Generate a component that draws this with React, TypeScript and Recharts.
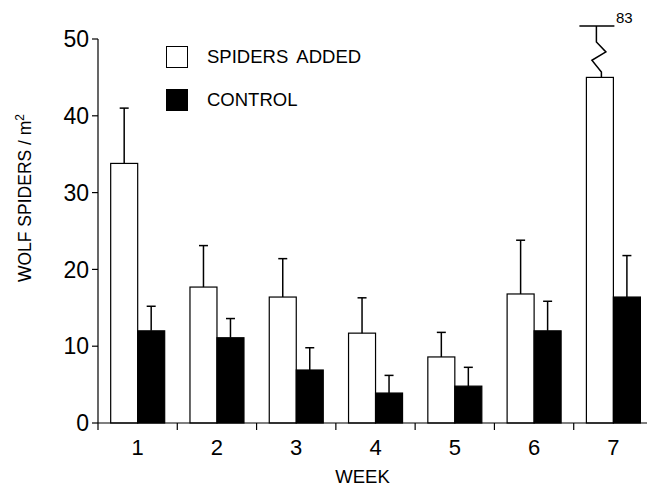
import React from 'react';
import { BarChart, Bar, XAxis, YAxis, Legend } from 'recharts';

const weeks = ['1', '2', '3', '4', '5', '6', '7'];
const spidersAdded = [33.8, 17.7, 16.4, 11.7, 8.6, 16.8, 45.0];
const spidersAddedUpper = [41.0, 23.1, 21.4, 16.3, 11.8, 23.8, 83];
const control = [12.0, 11.1, 6.9, 3.9, 4.8, 12.0, 16.4];
const controlUpper = [15.2, 13.6, 9.8, 6.2, 7.25, 15.85, 21.8];
const yTicks = [0, 10, 20, 30, 40, 50];
const legendOrder = ['SPIDERS ADDED', 'CONTROL'];
const Y_MAX = 50;
const BREAK_DRAW_AT = 51.7;

const data = weeks.map((w, i) => ({
  week: w,
  added: spidersAdded[i],
  addedUpper: spidersAddedUpper[i],
  control: control[i],
  controlUpper: controlUpper[i],
}));

const FONT = '"Liberation Sans", Arial, Helvetica, sans-serif';

const makeShape = (valueKey: string, upperKey: string, fill: string) => (props: any) => {
  const { x, y, width, height, payload } = props;
  const v = payload[valueKey];
  const upper = payload[upperKey];
  const base = y + height;
  const ppu = v > 0 ? height / v : 0;
  const cx = x + width / 2;
  const els: any[] = [];
  els.push(
    <rect key="r" x={x} y={y} width={width} height={height} fill={fill} stroke="#000" strokeWidth={1.2} />
  );
  if (upper <= Y_MAX) {
    const ey = base - upper * ppu;
    els.push(<line key="l" x1={cx} x2={cx} y1={y} y2={ey} stroke="#000" strokeWidth={1.5} />);
    els.push(<line key="c" x1={cx - 4.5} x2={cx + 4.5} y1={ey} y2={ey} stroke="#000" strokeWidth={1.5} />);
  } else {
    const capY = base - BREAK_DRAW_AT * ppu;
    const pts = [
      [cx - 3.5, capY],
      [cx - 3.5, capY + 16],
      [cx + 6, capY + 26],
      [cx - 8, capY + 34.3],
      [cx + 1.5, capY + 46],
      [cx + 1.5, y],
    ];
    els.push(
      <polyline key="z" points={pts.map((p) => p.join(',')).join(' ')} fill="none" stroke="#000" strokeWidth={1.5} />
    );
    els.push(<line key="c" x1={cx - 20.5} x2={cx + 14.5} y1={capY} y2={capY} stroke="#000" strokeWidth={1.5} />);
    els.push(
      <text key="t" x={cx + 16} y={capY - 3} fontSize={15} fill="#000" fontFamily={FONT}>
        {upper}
      </text>
    );
  }
  return <g>{els}</g>;
};

const XTick = (props: any) => {
  const { x, y, payload } = props;
  const off = payload && payload.offset ? payload.offset : 39.6;
  const axisY = y - 16.5;
  return (
    <g>
      <line x1={x - off} x2={x - off} y1={axisY} y2={axisY + 7} stroke="#000" strokeWidth={1.2} />
      <text x={x} y={y} dy="0.71em" textAnchor="middle" fontSize={22} fill="#000" fontFamily={FONT}>
        {payload.value}
      </text>
    </g>
  );
};

const renderLegend = (props: any) => {
  const payload = [...(props.payload || [])].sort(
    (a: any, b: any) => legendOrder.indexOf(a.value) - legendOrder.indexOf(b.value)
  );
  return (
    <div style={{ fontFamily: FONT, fontSize: 18.5, color: '#000' }}>
      {payload.map((entry: any, i: number) => {
        const fill = (entry.payload && entry.payload.fill) || entry.color;
        return (
          <div
            key={i}
            style={{ display: 'flex', alignItems: 'center', height: 22, marginBottom: i === 0 ? 20.6 : 0 }}
          >
            <span
              style={{
                display: 'inline-block',
                width: 22,
                height: 22,
                boxSizing: 'border-box',
                border: '1.2px solid #000',
                background: fill,
              }}
            />
            <span style={{ marginLeft: 19, wordSpacing: 4, whiteSpace: 'nowrap' }}>{entry.value}</span>
          </div>
        );
      })}
    </div>
  );
};

const YLabel = () => (
  <text transform="translate(31, 198) rotate(-90)" textAnchor="middle" fontSize={17.5} fill="#000" fontFamily={FONT}>
    WOLF SPIDERS / m
    <tspan dy={-7} fontSize={12}>
      2
    </tspan>
  </text>
);

const XLabel = () => (
  <text x={362.5} y={483} textAnchor="middle" fontSize={18.5} fill="#000" fontFamily={FONT}>
    WEEK
  </text>
);

export default function App() {
  return (
    <div
      style={{
        position: 'fixed',
        left: 0,
        top: 0,
        width: 647,
        height: 487,
        overflow: 'hidden',
        background: '#fff',
        fontFamily: FONT,
      }}
    >
      <BarChart
        width={660}
        height={487}
        data={data}
        margin={{ top: 39, right: 7, bottom: 4, left: 0 }}
        barCategoryGap="16%"
        barGap={0}
      >
        <XAxis
          dataKey="week"
          height={60}
          tickLine={false}
          tickSize={7}
          tickMargin={9.5}
          axisLine={{ stroke: '#000', strokeWidth: 1.2 }}
          tick={<XTick />}
          interval={0}
          label={<XLabel />}
        />
        <YAxis
          width={98}
          domain={[0, Y_MAX]}
          ticks={yTicks}
          interval={0}
          tickSize={6}
          tickMargin={3}
          axisLine={{ stroke: '#000', strokeWidth: 1.2 }}
          tickLine={{ stroke: '#000', strokeWidth: 1.2 }}
          tick={{ fontSize: 23, fill: '#000', fontFamily: FONT }}
          label={<YLabel />}
        />
        <Legend
          layout="vertical"
          align="center"
          verticalAlign="middle"
          content={renderLegend}
          wrapperStyle={{ left: 166, top: 46, width: 260, height: 70 }}
        />
        <Bar
          dataKey="added"
          name="SPIDERS ADDED"
          fill="#ffffff"
          stroke="#000"
          isAnimationActive={false}
          shape={makeShape('added', 'addedUpper', '#ffffff')}
        />
        <Bar
          dataKey="control"
          name="CONTROL"
          fill="#000000"
          stroke="#000"
          isAnimationActive={false}
          shape={makeShape('control', 'controlUpper', '#000000')}
        />
      </BarChart>
    </div>
  );
}
